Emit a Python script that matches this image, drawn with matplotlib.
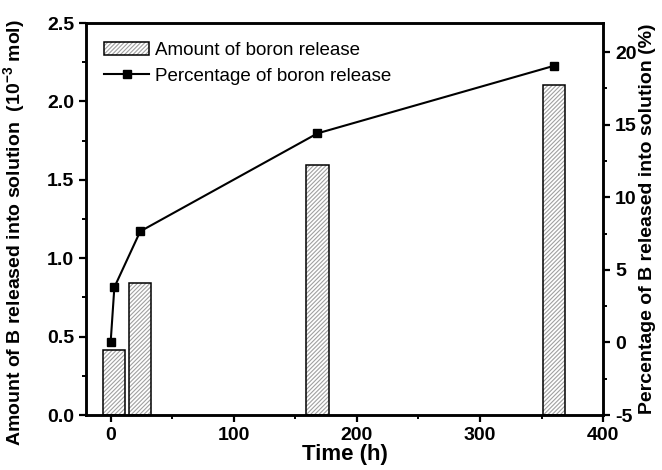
import matplotlib
matplotlib.use("Agg")
import matplotlib.pyplot as plt
from matplotlib.patches import Patch
from matplotlib.ticker import MultipleLocator

plt.rcParams['font.family'] = ['Liberation Sans', 'DejaVu Sans']
plt.rcParams['mathtext.fontset'] = 'custom'
plt.rcParams['mathtext.rm'] = 'Liberation Sans'
plt.rcParams['mathtext.bf'] = 'Liberation Sans:bold'
plt.rcParams['hatch.linewidth'] = 0.8
plt.rcParams['axes.unicode_minus'] = False

# данные
bar_time = [3, 24, 168, 360]
bar_amount = [0.415, 0.844, 1.594, 2.105]
pct_time = [0, 3, 24, 168, 360]
pct_value = [0.05, 3.8, 7.65, 14.4, 19.05]


def main():
    fig = plt.figure(figsize=(6.62, 4.70), dpi=100)
    ax = fig.add_axes([0.130, 0.117, 0.781, 0.834])
    ax2 = ax.twinx()

    # штриховка серым, контур чёрным
    ax.bar(bar_time, bar_amount, width=18, color='white', edgecolor='#a0a0a0',
           hatch='////////', linewidth=0, zorder=2)
    ax.bar(bar_time, bar_amount, width=18, fill=False, edgecolor='black',
           linewidth=1.1, zorder=3)

    ax2.plot(pct_time, pct_value, color='black', linewidth=1.5, marker='s',
             markersize=6, zorder=4)

    ax.set_xlim(-20, 400)
    ax.set_ylim(0, 2.5)
    ax2.set_ylim(-5, 22)

    ax.xaxis.set_major_locator(MultipleLocator(100))
    ax.xaxis.set_minor_locator(MultipleLocator(50))
    ax.yaxis.set_major_locator(MultipleLocator(0.5))
    ax.yaxis.set_minor_locator(MultipleLocator(0.25))
    ax2.yaxis.set_major_locator(MultipleLocator(5))
    ax2.yaxis.set_minor_locator(MultipleLocator(2.5))

    for a in (ax, ax2):
        for s in a.spines.values():
            s.set_linewidth(1.8)
        a.tick_params(which='major', length=5, width=1.6, labelsize=14)
        a.tick_params(which='minor', length=3, width=1.4)
        for lab in a.get_xticklabels() + a.get_yticklabels():
            lab.set_fontweight('bold')

    ax.set_xlabel("Time (h)", fontsize=16, fontweight='bold', labelpad=0)
    ax.set_ylabel("Amount of B released into solution  (10$^{\\mathbf{-3}}$ mol)",
                  fontsize=14, fontweight='bold')
    ax.yaxis.set_label_coords(-0.112, 0.465)
    ax2.set_ylabel("Percentage of B released into solution (%)",
                   fontsize=14, fontweight='bold', labelpad=2)

    # легенда: серая штриховка + чёрная рамка
    bar_fill = Patch(facecolor='white', edgecolor='#a0a0a0', hatch='////////',
                     linewidth=0)
    bar_edge = Patch(fill=False, edgecolor='black', linewidth=1.1)
    line_handle = plt.Line2D([], [], color='black', linewidth=1.5, marker='s',
                             markersize=6)
    ax2.legend([(bar_fill, bar_edge), line_handle],
               ["Amount of boron release", "Percentage of boron release"],
               loc='upper left', bbox_to_anchor=(0.01, 0.985), frameon=False,
               fontsize=13.5, handlelength=2.4, handletextpad=0.3,
               labelspacing=0.45, borderaxespad=0.3)

    fig.savefig("out.png", dpi=100)


if __name__ == "__main__":
    main()
